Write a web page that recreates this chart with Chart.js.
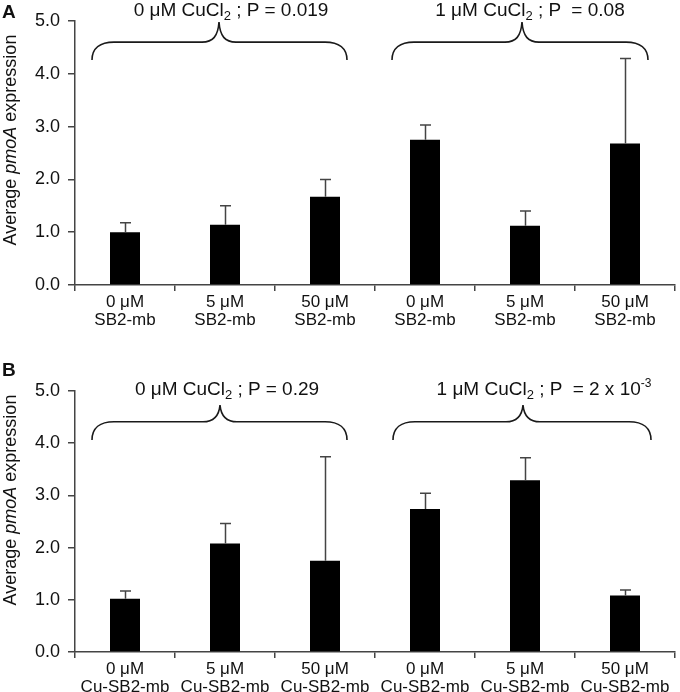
<!DOCTYPE html>
<html>
<head>
<meta charset="utf-8">
<script src="https://cdn.jsdelivr.net/npm/chart.js@4"></script>
<style>
  html, body { margin: 0; padding: 0; background: #fff; }
  #wrap { position: relative; width: 680px; height: 692px; font-family: "Liberation Sans", Arial, sans-serif; color: #111; }
  .cv { position: absolute; left: 0; width: 680px; }
  .txt { position: absolute; white-space: nowrap; font-size: 19px; line-height: 19px; }
  .ctr { transform: translateX(-50%); }
  .ytitle { position: absolute; white-space: nowrap; font-size: 18px; line-height: 18px; transform: translate(-50%, -50%) rotate(-90deg); }
  .panel { position: absolute; font-weight: bold; font-size: 19px; line-height: 18px; }
  sub { font-size: 13px; vertical-align: -4px; line-height: 0; }
  sup { font-size: 12px; vertical-align: 8px; line-height: 0; }
</style>
</head>
<body>
<div id="wrap">
  <div class="cv" style="top:0;height:340px;"><canvas id="cA" width="680" height="340"></canvas></div>
  <div class="cv" style="top:340px;height:352px;"><canvas id="cB" width="680" height="352"></canvas></div>

  <div class="panel" style="left:2px;top:3px;">A</div>
  <div class="panel" style="left:2px;top:361px;">B</div>

  <div class="ytitle" style="left:10px;top:140px;">Average <i>pmoA</i> expression</div>
  <div class="ytitle" style="left:10px;top:500px;">Average <i>pmoA</i> expression</div>

  <div class="txt ctr" style="left:231px;top:0px;">0 μM CuCl<sub>2</sub> ; P = 0.019</div>
  <div class="txt ctr" style="left:530px;top:0px;">1 μM CuCl<sub>2</sub> ; P &nbsp;= 0.08</div>
  <div class="txt ctr" style="left:227px;top:379px;">0 μM CuCl<sub>2</sub> ; P = 0.29</div>
  <div class="txt ctr" style="left:544px;top:379px;">1 μM CuCl<sub>2</sub> ; P &nbsp;= 2 x 10<sup>-3</sup></div>
</div>
<script>
// ---- data ----
const categoriesA = [["0 μM","SB2-mb"],["5 μM","SB2-mb"],["50 μM","SB2-mb"],["0 μM","SB2-mb"],["5 μM","SB2-mb"],["50 μM","SB2-mb"]];
const valuesA = [1.00, 1.14, 1.67, 2.75, 1.12, 2.68];
const errorsA = [0.18, 0.36, 0.33, 0.28, 0.28, 1.61];

const categoriesB = [["0 μM","Cu-SB2-mb"],["5 μM","Cu-SB2-mb"],["50 μM","Cu-SB2-mb"],["0 μM","Cu-SB2-mb"],["5 μM","Cu-SB2-mb"],["50 μM","Cu-SB2-mb"]];
const valuesB = [1.02, 2.08, 1.75, 2.74, 3.29, 1.08];
const errorsB = [0.15, 0.38, 1.99, 0.30, 0.43, 0.11];

const yTicks = [0, 1, 2, 3, 4, 5];

// ---- plugins ----
const errorBarPlugin = {
  id: 'errorBars',
  afterDatasetsDraw(chart, args, opts) {
    const ctx = chart.ctx;
    const meta = chart.getDatasetMeta(0);
    const y = chart.scales.y;
    const vals = chart.data.datasets[0].data;
    ctx.save();
    ctx.strokeStyle = '#444';
    ctx.lineWidth = 1.5;
    meta.data.forEach((bar, i) => {
      const x = Math.round(bar.x) + 0.5;
      const y0 = y.getPixelForValue(vals[i]);
      const y1 = y.getPixelForValue(vals[i] + opts.errors[i]);
      ctx.beginPath();
      ctx.moveTo(x, y0);
      ctx.lineTo(x, y1);
      ctx.moveTo(x - 5.5, y1);
      ctx.lineTo(x + 5.5, y1);
      ctx.stroke();
    });
    ctx.restore();
  }
};

const bracePlugin = {
  id: 'braces',
  afterDraw(chart, args, opts) {
    const ctx = chart.ctx;
    const xs = chart.scales.x, ys = chart.scales.y;
    ctx.save();
    ctx.strokeStyle = '#1a1a1a';
    ctx.lineWidth = 1.6;
    opts.items.forEach(b => {
      const x0 = xs.getPixelForValue(b.from);
      const x1 = xs.getPixelForValue(b.to);
      const xm = xs.getPixelForValue(b.tip);
      const yh = ys.getPixelForValue(b.level);
      const ye = ys.getPixelForValue(b.end);
      const yt = ys.getPixelForValue(b.peak);
      ctx.beginPath();
      ctx.moveTo(x0, ye);
      ctx.bezierCurveTo(x0, yh + (ye - yh) * 0.35, x0 + 8, yh, x0 + 22, yh);
      ctx.lineTo(xm - 17, yh);
      ctx.bezierCurveTo(xm - 6, yh, xm - 1, yh - 6, xm, yt);
      ctx.bezierCurveTo(xm + 1, yh - 6, xm + 6, yh, xm + 17, yh);
      ctx.lineTo(x1 - 22, yh);
      ctx.bezierCurveTo(x1 - 8, yh, x1, yh + (ye - yh) * 0.35, x1, ye);
      ctx.stroke();
    });
    ctx.restore();
  }
};

function makeChart(id, cats, vals, errs, topPad, xHeight, braces) {
  return new Chart(document.getElementById(id), {
    type: 'bar',
    data: {
      labels: cats,
      datasets: [{ data: vals, backgroundColor: '#000', borderWidth: 0, barPercentage: 0.3, categoryPercentage: 1.0 }]
    },
    options: {
      responsive: false,
      animation: false,
      events: [],
      layout: { padding: { left: 0, right: 5, top: topPad, bottom: 0 } },
      plugins: {
        legend: { display: false },
        tooltip: { enabled: false },
        errorBars: { errors: errs },
        braces: { items: braces }
      },
      scales: {
        x: {
          offset: true,
          grid: { display: true, drawOnChartArea: false, offset: true, tickLength: 6, color: '#444', lineWidth: 1.5 },
          border: { display: true, color: '#444', width: 1.5 },
          ticks: { color: '#111', font: { family: 'Liberation Sans, Arial, sans-serif', size: 17, lineHeight: 1.08 }, padding: 2, maxRotation: 0, autoSkip: false },
          afterFit(s) { s.height = xHeight; }
        },
        y: {
          min: 0, max: 5,
          afterBuildTicks(s) { s.ticks = yTicks.map(v => ({ value: v })); },
          grid: { display: true, drawOnChartArea: false, tickLength: 7, color: '#444', lineWidth: 1.5 },
          border: { display: true, color: '#444', width: 1.5 },
          ticks: { color: '#111', font: { family: 'Liberation Sans, Arial, sans-serif', size: 18 }, padding: 8, callback: v => Number(v).toFixed(1) },
          afterFit(s) { s.width = 75; }
        }
      }
    },
    plugins: [errorBarPlugin, bracePlugin]
  });
}

makeChart('cA', categoriesA, valuesA, errorsA, 21, 55, [
  { from: -0.33, to: 2.22, tip: 0.94, level: 4.60, end: 4.26, peak: 4.98 },
  { from: 2.67, to: 5.23, tip: 3.97, level: 4.60, end: 4.26, peak: 4.98 }
]);
makeChart('cB', categoriesB, valuesB, errorsB, 51, 40, [
  { from: -0.33, to: 2.22, tip: 0.95, level: 4.41, end: 4.06, peak: 4.73 },
  { from: 2.68, to: 5.26, tip: 3.98, level: 4.41, end: 4.06, peak: 4.73 }
]);
</script>
</body>
</html>
